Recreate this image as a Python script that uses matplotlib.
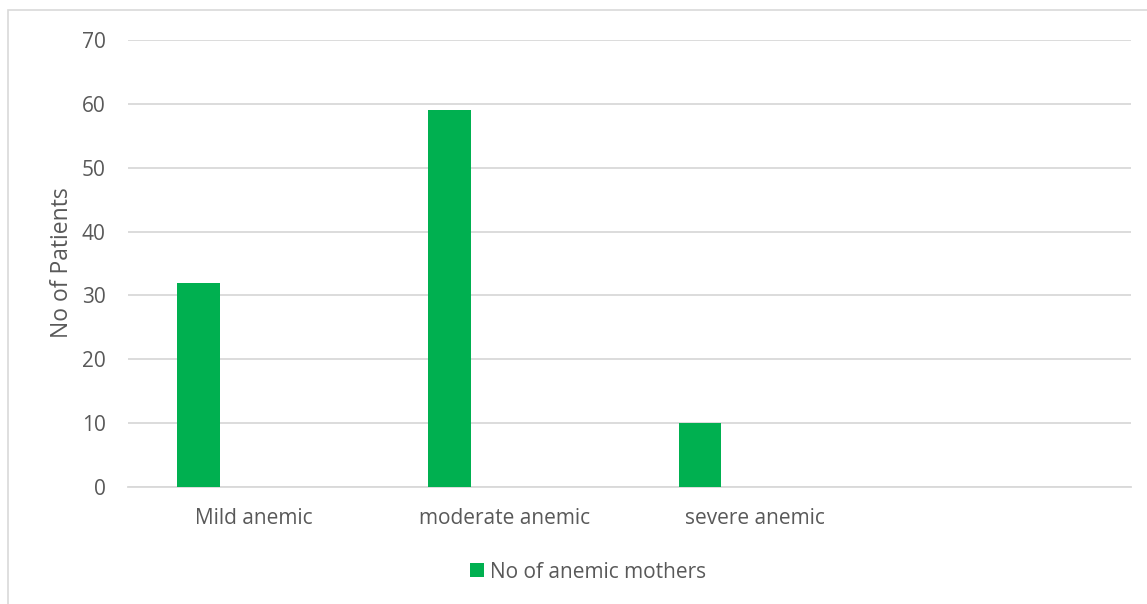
import matplotlib
matplotlib.use("Agg")
import matplotlib.pyplot as plt
from matplotlib.patches import Rectangle, Patch
import numpy as np

categories = ["Mild anemic", "moderate anemic", "severe anemic"]
values = [32, 59, 10]
series_name = "No of anemic mothers"
y_label = "No of Patients"
y_ticks = [0, 10, 20, 30, 40, 50, 60, 70]

n_slots = 4
bar_offset = -0.219
bar_width = 0.171
text_color = "#595959"
grid_color = "#d9d9d9"
bar_color = "#00B050"

plt.rcParams['font.family'] = ['Open Sans', 'DejaVu Sans']

W, H = 1147, 604
fig = plt.figure(figsize=(W / 100, H / 100), dpi=100)
fig.patch.set_facecolor("white")

# chart area border
fig.patches.append(Rectangle((8 / W, -0.05), 1.2, (H - 10) / H + 0.05,
                             transform=fig.transFigure, fill=False,
                             edgecolor="#d9d9d9", linewidth=1.2))

ax = fig.add_axes([128 / W, (H - 487) / H, (1131 - 128) / W, (487 - 40) / H])
x = np.arange(len(categories))
ax.bar(x + bar_offset, values, width=bar_width, color=bar_color, zorder=3)

ax.set_xlim(-0.5, n_slots - 0.5)
ax.set_ylim(0, 70)
ax.set_yticks(y_ticks)
ax.set_xticks(x)
ax.set_xticklabels(categories)
ax.tick_params(axis="both", length=0, labelsize=15, colors=text_color)
ax.tick_params(axis="y", pad=16)
ax.tick_params(axis="x", pad=15)
ax.yaxis.grid(True, color=grid_color, linewidth=1.3, zorder=0)
ax.set_axisbelow(True)
for s in ["top", "right", "left"]:
    ax.spines[s].set_visible(False)
ax.spines["bottom"].set_color(grid_color)
ax.spines["bottom"].set_linewidth(1.3)

ax.set_ylabel(y_label, fontsize=16.5, color=text_color)
ax.yaxis.set_label_coords((74 - 128) / (1131 - 128), (487 - 263) / (487 - 40))

handle = Patch(facecolor=bar_color, edgecolor="none")
fig.legend([handle], [series_name], loc="center", bbox_to_anchor=(588 / W, (H - 572) / H),
           frameon=False, fontsize=15, handlelength=0.65, handleheight=0.65,
           handletextpad=0.3, labelcolor=text_color)

fig.savefig("out.png", dpi=100, facecolor="white")
